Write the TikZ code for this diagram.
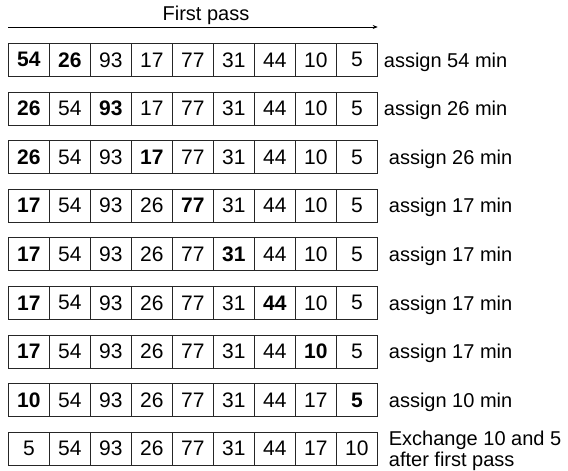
\documentclass[tikz,border=0pt]{standalone}
\usepackage{fontspec}
\setmainfont{Liberation Sans}
\usetikzlibrary{arrows.meta,positioning}

\begin{document}
\begin{tikzpicture}[x=1pt, y=-1pt,
  cell/.style={draw=black!85, line width=0.7pt, minimum width=41pt, minimum height=33pt,
    inner sep=0pt, anchor=north west, font=\fontsize{21}{24}\selectfont},
  note/.style={inner sep=0pt, align=left, font=\fontsize{20}{21}\selectfont}]
\useasboundingbox (0,0) rectangle (568,471);
% rows of the first pass
\foreach \r/\vals/\bi/\bj/\gap/\txt in {
  1/{54,26,93,17,77,31,44,10,5}/1/2/6pt/{assign 54 min},
  2/{26,54,93,17,77,31,44,10,5}/1/3/6pt/{assign 26 min},
  3/{26,54,93,17,77,31,44,10,5}/1/4/11pt/{assign 26 min},
  4/{17,54,93,26,77,31,44,10,5}/1/5/11pt/{assign 17 min},
  5/{17,54,93,26,77,31,44,10,5}/1/6/11pt/{assign 17 min},
  6/{17,54,93,26,77,31,44,10,5}/1/7/11pt/{assign 17 min},
  7/{17,54,93,26,77,31,44,10,5}/1/8/11pt/{assign 17 min},
  8/{10,54,93,26,77,31,44,17,5}/1/9/11pt/{assign 10 min},
  9/{5,54,93,26,77,31,44,17,10}/0/0/11pt/{Exchange 10 and 5\\after first pass}}
{
  \foreach \v [count=\k] in \vals {
    \ifnum\k=\bi \def\w{\bfseries}\else\ifnum\k=\bj \def\w{\bfseries}\else\def\w{}\fi\fi
    \node[cell] (c\r-\k) at ({8+41*(\k-1)},{43+48.6*(\r-1)}) {\w\v};
  }
  \node[note, right=\gap of c\r-9, yshift=-2pt] (t\r) {\txt};
}
% arrow over the rows
\coordinate (start) at ([yshift=16pt]c1-1.north west);
\coordinate (end) at ([yshift=16pt]c1-9.north east);
\draw[line width=0.6pt, -{Stealth[length=5pt,width=4pt]}] (start) -- (end);
\node[note] (title) at (206,15) {First pass};
\end{tikzpicture}
\end{document}
